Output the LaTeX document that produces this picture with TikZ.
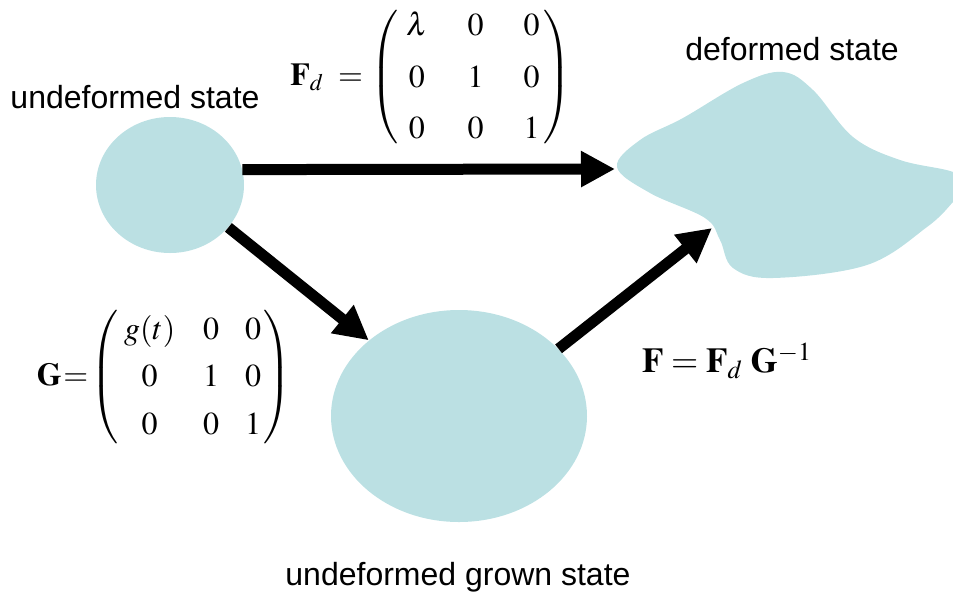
\documentclass[tikz,border=0pt]{standalone}
\usepackage{amsmath}
\usepackage{mathptmx}
\usepackage[no-math]{fontspec}
\setmainfont{Liberation Serif}
\newfontfamily\labelfont{Liberation Sans}
\usepackage{xcolor}
\usetikzlibrary{arrows.meta,shapes,positioning}
\definecolor{statefill}{RGB}{187,224,227}
% parens sized by a strut, not by the array
\newcommand{\parenstrut}[2]{\delimiterfactor=1000\relax\delimitershortfall=0pt\relax\vrule height #1 depth #2 width 0pt}

\begin{document}
\begin{tikzpicture}[x=0.5pt,y=-0.5pt,
    state/.style={ellipse,fill=statefill,inner sep=0pt},
    lbl/.style={font=\labelfont\fontsize{16}{19}\selectfont,inner sep=0pt},
    mat/.style={font=\fontsize{16}{19}\selectfont,inner sep=0pt},
    bigarrow/.style={line width=5.5pt,-{Triangle[length=17pt,width=17pt]}}]
  \useasboundingbox (0,0) rectangle (953,601);
  \node[state,minimum width=74pt,minimum height=68pt] (undef) at (170,185) {};
  \node[state,minimum width=128pt,minimum height=106pt] (grown) at (459,416) {};
  \fill[statefill] plot[smooth cycle,tension=0.6] coordinates {(617,167) (640,140) (683,118) (743,83) (783,72) (813,90) (853,137) (900,160) (953,172) (965,186) (953,202) (927,227) (867,265) (773,278) (733,268) (720,240) (705,218) (650,193)};
  \coordinate (defL) at (615,169);
  \coordinate (defS) at (712,228);
  \node[lbl] (undeflbl) at (135,97) {undeformed state};
  \node[lbl] (deflbl) at (792,49) {deformed state};
  \node[lbl] (grownlbl) at (458,577) {undeformed grown state};
  \node[mat] (fd) at (431,77) {\renewcommand{\arraystretch}{1.35}%
    $\mathbf{F}_d\;=\left(\parenstrut{38pt}{30pt}\smash{\begin{array}{@{\hspace{4pt}}c@{\hspace{20pt}}c@{\hspace{20pt}}c@{\hspace{2pt}}}\lambda&0&0\\0&1&0\\0&0&1\end{array}}\right)$};
  \node[mat] (gmat) at (164,377) {\renewcommand{\arraystretch}{1.25}%
    $\mathbf{G}\mskip-3mu=\mskip-3mu\left(\parenstrut{37pt}{29pt}\smash{\begin{array}{@{\hspace{3pt}}c@{\hspace{14pt}}c@{\hspace{13pt}}c@{\hspace{1pt}}}g(t)&0&0\\0&1&0\\0&0&1\end{array}}\right)$};
  \node[font=\fontsize{17.5}{21}\selectfont,inner sep=0pt] (frel) at (727,361) {$\mathbf{F}=\mathbf{F}_d\;\mathbf{G}^{-1}$};
  \draw[bigarrow] (undef.12) -- (defL);
  \draw[bigarrow] (undef.-36) -- (grown.140);
  \draw[bigarrow] (grown.34) -- (defS);
\end{tikzpicture}
\end{document}
